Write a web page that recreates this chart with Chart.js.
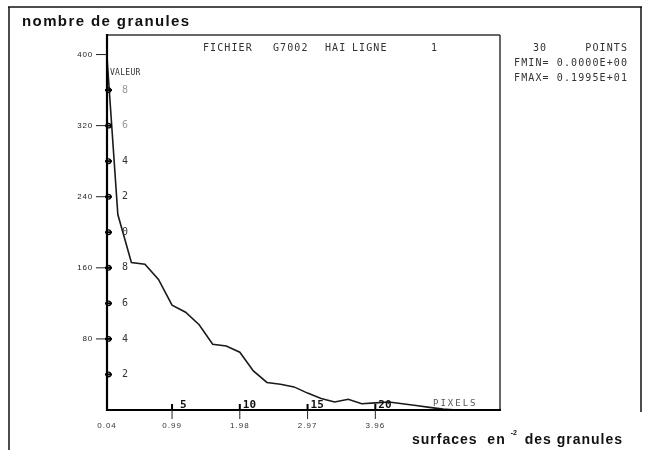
<!DOCTYPE html>
<html>
<head>
<meta charset="utf-8">
<script src="https://cdn.jsdelivr.net/npm/chart.js@4/dist/chart.umd.min.js"></script>
<style>
  html, body { margin: 0; padding: 0; background: #ffffff; }
  canvas { display: block; }
</style>
</head>
<body>
<canvas id="c" width="647" height="450"></canvas>
<script>
// ---- data ----
const xPixels = [0.2, 1, 2, 3, 4, 5, 6, 7, 8, 9, 10, 11, 12, 13, 14, 15, 16, 17, 18, 19, 20, 21, 22, 23, 24, 25, 26, 27, 28, 29];
const granules = [397, 220, 166, 164, 147, 118, 110, 96, 74, 72, 65, 44, 31, 29, 26, 19, 13, 9, 12, 7, 8, 9, 7, 5, 3, 1, 0, 0, 0, 0];

const yTickValues = [80, 160, 240, 320, 400];
const yTickLabels = ['80', '160', '240', '320', '400'];
const valeurTickValues = [40, 80, 120, 160, 200, 240, 280, 320, 360];
const valeurTickLabels = ['2', '4', '6', '8', '0', '2', '4', '6', '8'];
const surfaceTickValues = [0.2, 5, 10, 15, 20];
const surfaceTickLabels = ['0.04', '0.99', '1.98', '2.97', '3.96'];
const pixelTickValues = [5, 10, 15, 20];
const pixelTickLabels = ['5', '10', '15', '20'];

const yTitle = 'nombre de granules';
const xTitleA = 'surfaces  en';
const xTitleSup = '-2';
const xTitleB = 'des granules';
const headerWords = [['FICHIER', 203], ['G7002', 273], ['HAI', 325], ['LIGNE', 352], ['1', 431]];
const infoLines = ['FMIN= 0.0000E+00', 'FMAX= 0.1995E+01'];

const MONO = '"DejaVu Sans Mono", "Liberation Mono", monospace';
const SANS = '"Liberation Sans", Arial, sans-serif';

function seg(ctx, x1, y1, x2, y2) {
  ctx.beginPath(); ctx.moveTo(x1, y1); ctx.lineTo(x2, y2); ctx.stroke();
}

const deco = {
  id: 'deco',
  afterDatasetsDraw(chart) {
    const { ctx, chartArea: a, scales: { x, y } } = chart;
    ctx.save();
    ctx.lineCap = 'butt';

    // outer frame
    ctx.strokeStyle = '#111'; ctx.lineWidth = 1.5;
    seg(ctx, 8, 7, 642, 7);
    seg(ctx, 9, 7, 9, 450);
    seg(ctx, 641, 7, 641, 412);

    // plot box
    ctx.strokeStyle = '#333'; ctx.lineWidth = 1.5;
    seg(ctx, a.left, a.top, a.right, a.top);
    seg(ctx, a.right, a.top, a.right, a.bottom);
    ctx.strokeStyle = '#000'; ctx.lineWidth = 2.2;
    seg(ctx, a.left, a.top - 1, a.left, a.bottom + 1);
    seg(ctx, a.left - 1, a.bottom, a.right + 1, a.bottom);

    // outer y ticks + labels
    ctx.fillStyle = '#222';
    ctx.font = '8px ' + SANS;
    ctx.letterSpacing = '0.8px';
    ctx.textAlign = 'right'; ctx.textBaseline = 'middle';
    ctx.strokeStyle = '#222'; ctx.lineWidth = 1;
    yTickValues.forEach((v, i) => {
      const py = y.getPixelForValue(v);
      seg(ctx, 96, py, a.left, py);
      ctx.fillText(yTickLabels[i], 93, py);
    });

    // inner VALEUR marks + digits
    ctx.letterSpacing = '0px';
    valeurTickValues.forEach((v, i) => {
      const py = y.getPixelForValue(v);
      ctx.strokeStyle = '#000'; ctx.lineWidth = 2;
      seg(ctx, a.left - 2, py, a.left + 5, py);
      ctx.lineWidth = 1.3;
      ctx.beginPath(); ctx.arc(a.left + 1.5, py, 2.3, 0, Math.PI * 2); ctx.stroke();
      ctx.fillStyle = v >= 320 ? '#999' : '#333';
      ctx.font = '10px ' + MONO;
      ctx.textAlign = 'center';
      ctx.fillText(valeurTickLabels[i], 125, py);
    });
    ctx.fillStyle = '#333';
    ctx.font = '8px ' + MONO;
    ctx.textAlign = 'left';
    ctx.letterSpacing = '0.3px';
    ctx.fillText('VALEUR', a.left + 3, 73);

    // x ticks
    ctx.strokeStyle = '#222'; ctx.lineWidth = 1;
    ctx.fillStyle = '#333';
    ctx.font = '8px ' + SANS;
    ctx.letterSpacing = '1px';
    ctx.textAlign = 'center'; ctx.textBaseline = 'middle';
    surfaceTickValues.forEach((v, i) => {
      const px = x.getPixelForValue(v);
      if (i > 0) seg(ctx, px, a.bottom, px, a.bottom + 9);
      ctx.fillText(surfaceTickLabels[i], px, 426);
    });
    ctx.strokeStyle = '#000'; ctx.lineWidth = 2;
    ctx.fillStyle = '#111';
    ctx.font = 'bold 11px ' + MONO;
    ctx.letterSpacing = '0px';
    ctx.textAlign = 'left';
    pixelTickValues.forEach((v, i) => {
      const px = x.getPixelForValue(v);
      seg(ctx, px, a.bottom - 6, px, a.bottom);
      ctx.fillText(pixelTickLabels[i], px + (v === 5 ? 8 : 3), a.bottom - 5);
    });
    ctx.fillStyle = '#555';
    ctx.font = '9px ' + MONO;
    ctx.letterSpacing = '2px';
    ctx.fillText('PIXELS', 433, a.bottom - 6);

    // header
    ctx.fillStyle = '#333';
    ctx.font = '10px ' + MONO;
    ctx.letterSpacing = '1.1px';
    ctx.textAlign = 'left';
    headerWords.forEach(([w, px]) => ctx.fillText(w, px, 48));
    ctx.fillText('30', 533, 48);
    ctx.textAlign = 'right';
    ctx.fillText('POINTS', 628, 48);
    ctx.fillText(infoLines[0], 628, 63);
    ctx.fillText(infoLines[1], 628, 78);

    // titles
    ctx.fillStyle = '#111';
    ctx.textAlign = 'left';
    ctx.textBaseline = 'alphabetic';
    ctx.letterSpacing = '1.4px';
    ctx.font = 'bold 15px ' + SANS;
    ctx.fillText(yTitle, 22, 26);
    ctx.letterSpacing = '1px';
    ctx.font = 'bold 14px ' + SANS;
    ctx.fillText(xTitleA, 412, 444);
    const wA = ctx.measureText(xTitleA).width;
    ctx.letterSpacing = '0px';
    ctx.font = 'bold 7px ' + SANS;
    ctx.fillText(xTitleSup, 412 + wA + 5, 435);
    ctx.letterSpacing = '1px';
    ctx.font = 'bold 14px ' + SANS;
    ctx.fillText(xTitleB, 412 + wA + 19, 444);

    ctx.restore();
  }
};

new Chart(document.getElementById('c').getContext('2d'), {
  type: 'line',
  data: {
    datasets: [{
      data: xPixels.map((v, i) => ({ x: v, y: granules[i] })),
      borderColor: '#1a1a1a',
      borderWidth: 1.6,
      pointRadius: 0,
      tension: 0,
      fill: false
    }]
  },
  options: {
    responsive: false,
    animation: false,
    devicePixelRatio: 1,
    layout: { padding: { left: 107, right: 147, top: 35, bottom: 40 } },
    scales: {
      x: { type: 'linear', display: false, min: 0.2, max: 29.2 },
      y: { display: false, min: 0, max: 422 }
    },
    plugins: { legend: { display: false }, tooltip: { enabled: false } }
  },
  plugins: [deco]
});
</script>
</body>
</html>
